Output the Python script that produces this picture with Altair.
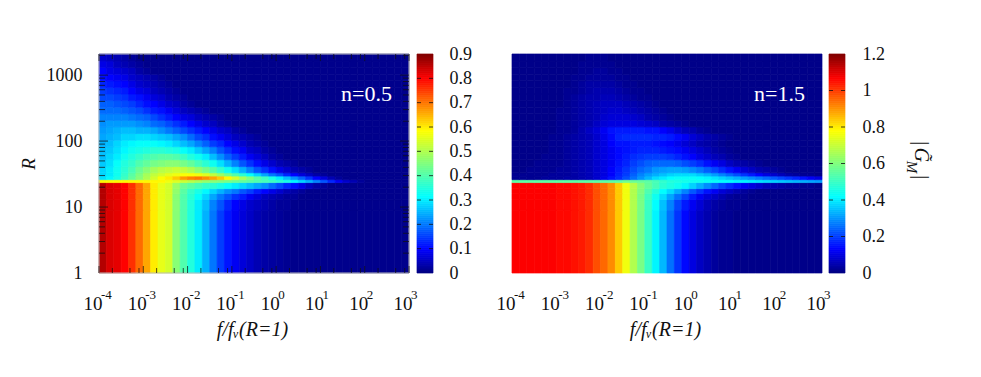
import altair as alt
import pandas as pd

FONT = "Liberation Serif"
N = 42
FLOOR = 0.01
H = 219
x_edges_log = [-4 + i / 6 for i in range(N + 1)]
r_edges = [1, 9, 13, 16, 19, 23.5, 26, 29.5, 33, 41, 52, 65, 82, 103, 130, 164, 206, 259, 326, 411, 517, 651, 820, 1032, 1299, 1635, 2090]

left_low = [.86,.83,.82,.80,.76,.71,.66,.60,.56,.54]
right_low = [1.07,1.07,1.07,1.07,1.07,1.07,1.06,1.06,1.05,1.04,1.02,.98,.95,.91,.84]

# rows from the lowest R band to the highest
left_rows = [
    left_low + [.46,.40,.35,.30,.25,.20,.15,.115,.09,.07,.055,.04,.03,.025,.02,.015],
    left_low + [.46,.40,.35,.30,.26,.21,.17,.13,.10,.08,.06,.05,.04,.03,.02,.02],
    left_low + [.46,.40,.36,.32,.28,.24,.20,.17,.14,.12,.09,.07,.05,.04,.03,.02,.02],
    left_low + [.47,.41,.37,.34,.31,.28,.25,.22,.20,.17,.15,.12,.10,.08,.06,.04,.03,.02],
    left_low + [.48,.43,.41,.39,.37,.36,.34,.32,.30,.28,.26,.24,.22,.19,.16,.13,.11,.08,.05,.03,.02],
    [.59,.59,.59,.59,.59,.59,.59,.59,.59,.57,.55,.53,.51,.49,.47,.46,.45,.44,.43,.42,.41,.40,.39,.38,.36,.34,.31,.28,.25,.21,.17,.13,.09,.06,.04,.02],
    [.29,.31,.34,.38,.42,.46,.50,.54,.58,.60,.63,.67,.69,.70,.68,.66,.63,.59,.54,.49,.45,.41,.38,.34,.30,.26,.22,.18,.14,.10,.07,.04,.02],
    [.28,.30,.33,.37,.41,.45,.49,.52,.54,.56,.57,.58,.58,.57,.55,.52,.48,.44,.40,.36,.32,.28,.24,.20,.17,.13,.10,.07,.05,.03,.02],
    [.28,.30,.33,.36,.39,.43,.46,.49,.51,.52,.53,.52,.50,.47,.44,.41,.37,.33,.29,.25,.21,.17,.14,.11,.08,.06,.04,.03,.02],
    [.27,.29,.32,.35,.37,.40,.42,.44,.45,.46,.46,.44,.42,.39,.36,.33,.29,.25,.21,.17,.14,.11,.08,.06,.04,.03,.02],
    [.26,.28,.30,.33,.35,.37,.39,.40,.41,.41,.40,.38,.35,.33,.30,.26,.22,.18,.15,.12,.09,.07,.05,.03,.02],
    [.26,.27,.29,.31,.33,.34,.35,.36,.36,.35,.34,.32,.30,.27,.24,.21,.17,.14,.11,.09,.06,.05,.03,.02],
    [.25,.26,.28,.30,.31,.32,.32,.32,.31,.30,.28,.26,.24,.21,.18,.15,.13,.10,.08,.06,.04,.03,.02],
    [.24,.25,.26,.28,.28,.29,.29,.28,.27,.26,.24,.22,.19,.16,.14,.11,.09,.07,.05,.04,.03,.02],
    [.23,.24,.25,.26,.26,.25,.25,.24,.22,.20,.18,.16,.14,.12,.10,.08,.06,.05,.03,.02],
    [.22,.23,.23,.23,.23,.22,.21,.19,.18,.16,.14,.12,.10,.08,.06,.05,.03,.02],
    [.21,.21,.21,.21,.20,.19,.18,.16,.14,.12,.10,.08,.07,.05,.04,.03,.02],
    [.19,.19,.19,.18,.17,.16,.14,.12,.11,.09,.07,.05,.04,.03,.02],
    [.18,.18,.17,.16,.15,.13,.11,.10,.08,.06,.05,.03,.02],
    [.16,.16,.15,.14,.12,.11,.09,.07,.06,.04,.03,.02],
    [.15,.14,.13,.12,.10,.08,.07,.05,.04,.03,.02],
    [.13,.12,.11,.10,.08,.06,.05,.04,.03,.02],
    [.11,.10,.09,.08,.06,.05,.04,.03,.02],
    [.10,.08,.07,.06,.05,.03,.02],
    [.08,.07,.05,.04,.03,.02],
    [.06,.05,.04,.03,.02],
]

right_rows = [
    right_low + [.76,.67,.59,.50,.41,.34,.26,.19,.14,.10,.07,.05,.03,.02,.02],
    right_low + [.76,.67,.59,.50,.42,.35,.28,.21,.16,.12,.09,.06,.04,.03,.02,.02],
    right_low + [.76,.67,.59,.51,.44,.38,.32,.26,.21,.16,.12,.09,.07,.05,.03,.02,.02],
    right_low + [.76,.67,.60,.53,.47,.42,.38,.33,.28,.23,.19,.15,.12,.09,.07,.05,.03,.02],
    right_low + [.76,.68,.61,.56,.52,.48,.46,.44,.41,.37,.33,.29,.25,.21,.18,.15,.12,.10,.08,.06,.05,.04,.03,.03,.02,.02],
    [.55,.55,.55,.55,.55,.55,.55,.55,.55,.55,.55,.55,.55,.55,.55,.58,.57,.56,.55,.52,.49,.47,.46,.45,.44,.44,.43,.43,.42,.42,.41,.41,.40,.39,.38,.37,.36,.35,.34,.33,.32,.31],
    [.02,.02,.02,.02,.03,.03,.03,.04,.04,.05,.06,.08,.11,.15,.18,.22,.26,.30,.34,.38,.40,.42,.43,.43,.43,.42,.41,.39,.37,.35,.33,.31,.29,.27,.25,.23,.21,.19,.17,.15,.12,.10],
    [.02,.02,.02,.02,.02,.03,.03,.03,.04,.05,.06,.08,.10,.13,.17,.20,.24,.28,.31,.33,.35,.37,.38,.38,.38,.36,.34,.31,.28,.25,.22,.19,.16,.13,.10,.08,.06,.04,.03,.02,.02],
    [.01,.01,.02,.02,.02,.02,.03,.03,.04,.05,.06,.08,.10,.13,.16,.19,.22,.25,.27,.30,.31,.32,.32,.31,.29,.27,.24,.21,.18,.15,.12,.09,.07,.05,.04,.03,.02],
    [.01,.01,.01,.02,.02,.02,.02,.03,.04,.05,.06,.08,.10,.12,.15,.17,.20,.22,.24,.25,.25,.25,.24,.22,.20,.18,.15,.12,.10,.07,.05,.04,.03,.02],
    [.01,.01,.01,.01,.02,.02,.02,.03,.04,.05,.06,.08,.10,.12,.14,.16,.18,.19,.20,.20,.20,.19,.17,.15,.13,.10,.08,.06,.05,.03,.02],
    [.01,.01,.01,.01,.01,.02,.02,.03,.04,.05,.06,.08,.10,.12,.14,.15,.16,.17,.17,.17,.16,.15,.14,.12,.10,.08,.06,.04,.03,.02],
    [.01,.01,.01,.01,.01,.02,.02,.03,.04,.05,.06,.08,.10,.13,.15,.15,.16,.16,.16,.15,.14,.13,.11,.09,.07,.05,.04,.03,.02],
    [.01,.01,.01,.01,.01,.02,.02,.03,.04,.05,.06,.08,.11,.14,.17,.18,.18,.18,.18,.17,.17,.16,.14,.12,.09,.07,.05,.04,.03,.02],
    [.01,.01,.01,.01,.01,.01,.02,.02,.03,.05,.07,.09,.12,.15,.16,.16,.16,.16,.15,.15,.13,.11,.08,.06,.05,.03,.02],
    [.01,.01,.01,.01,.01,.01,.02,.02,.03,.04,.05,.07,.09,.10,.10,.10,.10,.09,.08,.07,.05,.04,.03,.02],
    [.01,.01,.01,.01,.01,.01,.02,.02,.03,.04,.05,.06,.08,.09,.09,.09,.08,.07,.05,.04,.03,.02],
    [.01,.01,.01,.01,.01,.01,.02,.02,.03,.04,.05,.06,.07,.08,.08,.07,.06,.05,.04,.03,.02],
    [.01,.01,.01,.01,.01,.01,.01,.02,.03,.04,.05,.06,.07,.07,.07,.06,.05,.04,.03,.02],
    [.01,.01,.01,.01,.01,.01,.01,.02,.03,.04,.05,.05,.06,.06,.05,.04,.03,.02,.02],
    [.01,.01,.01,.01,.01,.01,.01,.02,.02,.03,.04,.05,.05,.05,.04,.03,.02,.02],
    [.01,.01,.01,.01,.01,.01,.01,.01,.02,.03,.04,.04,.04,.04,.03,.02,.02],
    [.01,.01,.01,.01,.01,.01,.01,.01,.02,.02,.03,.03,.03,.03,.02,.02],
    [.01,.01,.01,.01,.01,.01,.01,.01,.01,.02,.02,.03,.03,.02,.02],
    [.01,.01,.01,.01,.01,.01,.01,.01,.01,.02,.02,.02,.02,.02],
    [.01,.01,.01,.01,.01,.01,.01,.01,.01,.01,.02,.02,.02],
]

JET_STOPS = [0, .11, .35, .5, .65, .89, 1]
JET_COLORS = ["#00007f", "#0000ff", "#00ffff", "#7fff7f", "#ffff00", "#ff0000", "#7f0000"]

x_major = [1e-4, 1e-3, 1e-2, 1e-1, 1e0, 1e1, 1e2, 1e3]
x_exponents = ["-4", "-3", "-2", "-1", "0", "1", "2", "3"]
x_minor_mult = [2, 5, 8]
y_major = [1, 10, 100, 1000]
y_minor = [2, 3, 4, 5, 6, 7, 8, 9, 20, 30, 40, 50, 60, 70, 80, 90, 200, 300, 400, 500, 600, 700, 800, 900, 2000]


def cells(rows):
    out = []
    for j, row in enumerate(rows):
        full = row + [FLOOR] * (N - len(row))
        for i, v in enumerate(full):
            out.append(dict(x=10 ** x_edges_log[i], x2=10 ** x_edges_log[i + 1],
                            y=r_edges[j], y2=r_edges[j + 1], v=v))
    return pd.DataFrame(out)


def color_scale(vmax):
    return alt.Scale(domain=[s * vmax for s in JET_STOPS], range=JET_COLORS, interpolate="rgb", clamp=True)


def panel(rows, vmax, label, show_y, show_ticks):
    xs = alt.Scale(type="log", domain=[1e-4, 1e3], nice=False)
    ys = alt.Scale(type="log", domain=[1, 2090], nice=False)
    xaxis = alt.Axis(values=x_major, labelExpr="'10'", title="f/fᵥ(R=1)", grid=False, ticks=False, domain=False,
                     labelFont=FONT, labelFontSize=19, labelColor="#111", labelPadding=21, labelFlush=False,
                     labelOffset=-6.5, labelOverlap=False,
                     titleFont=FONT, titleFontSize=20, titleFontStyle="italic", titleFontWeight="normal",
                     titleColor="#111", titlePadding=6, titleX=153)
    yaxis = (alt.Axis(values=y_major, format="d", title="R", grid=False, ticks=False, domain=False,
                      labelFont=FONT, labelFontSize=18, labelColor="#111", labelPadding=17,
                      titleFont=FONT, titleFontSize=19, titleFontStyle="italic", titleFontWeight="normal",
                      titleColor="#111", titlePadding=8)
             if show_y else None)
    X = alt.X("x:Q", scale=xs, axis=xaxis)
    Y = alt.Y("y:Q", scale=ys, axis=yaxis)
    base = alt.Chart(cells(rows)).mark_rect(strokeWidth=0.7).encode(
        x=X,
        x2="x2:Q",
        y=Y,
        y2="y2:Q",
        color=alt.Color("v:Q", scale=color_scale(vmax), legend=None),
        stroke=alt.Stroke("v:Q", scale=color_scale(vmax), legend=None),
    )
    text = alt.Chart(pd.DataFrame({"t": [label]})).mark_text(
        font=FONT, fontSize=22, color="white", align="right", baseline="middle"
    ).encode(x=alt.value(293), y=alt.value(40), text="t:N")
    sup = alt.Chart(pd.DataFrame({"x": x_major, "t": x_exponents})).mark_text(
        font=FONT, fontSize=13, color="#111", align="left", baseline="middle", dx=2
    ).encode(x=X, y=alt.value(H + 22), text="t:N")
    layers = [base, text, sup]
    if show_ticks:
        maj = pd.DataFrame({"x": x_major})
        mins = pd.DataFrame({"x": [a * m for a in x_major[:-1] for m in x_minor_mult]})
        ymaj = pd.DataFrame({"y": y_major[1:]})
        ymin = pd.DataFrame({"y": y_minor})
        def rule(df, **enc):
            return alt.Chart(df).mark_rule(color="#111", opacity=.75, strokeWidth=1).encode(**enc)
        frame = alt.Chart(pd.DataFrame({"a": [0]})).mark_rect(fill=None, stroke="#bbbbbb", strokeWidth=1).encode(
            x=alt.value(0), x2=alt.value(310), y=alt.value(0), y2=alt.value(H))
        layers += [
            frame,
            rule(maj, x=X, y=alt.value(H), y2=alt.value(H - 7)),
            rule(mins, x=X, y=alt.value(H), y2=alt.value(H - 5)),
            rule(maj, x=X, y=alt.value(0), y2=alt.value(7)),
            rule(mins, x=X, y=alt.value(0), y2=alt.value(5)),
            rule(ymaj, y=Y, x=alt.value(0), x2=alt.value(9)),
            rule(ymin, y=Y, x=alt.value(0), x2=alt.value(6)),
            rule(ymaj, y=Y, x=alt.value(310), x2=alt.value(301)),
            rule(ymin, y=Y, x=alt.value(310), x2=alt.value(304)),
        ]
    return alt.layer(*layers).properties(width=310, height=H)


def colorbar(vmax, ticks, fmt_expr, title_parts, shift):
    steps = 110
    lv = [vmax * i / steps for i in range(steps)]
    df = pd.DataFrame({"a": lv, "b": [v + vmax / steps for v in lv]})
    df["c"] = (df.a + df.b) / 2
    ys = alt.Scale(domain=[0, vmax], nice=False)
    axis = alt.Axis(values=ticks, orient="right", labelExpr=fmt_expr, grid=False, ticks=False, domain=False,
                    title=None, labelFont=FONT, labelFontSize=18, labelColor="#111", labelPadding=16)
    Y = alt.Y("a:Q", scale=ys, axis=axis)
    bar = alt.Chart(df).mark_rect(strokeWidth=0.7).encode(
        y=Y,
        y2="b:Q",
        x=alt.value(shift), x2=alt.value(16 + shift),
        color=alt.Color("c:Q", scale=color_scale(vmax), legend=None),
        stroke=alt.Stroke("c:Q", scale=color_scale(vmax), legend=None),
    )
    t = pd.DataFrame({"a": ticks[1:-1]})
    r1 = alt.Chart(t).mark_rule(color="#111", opacity=.8).encode(y=Y, x=alt.value(shift), x2=alt.value(shift + 4))
    r2 = alt.Chart(t).mark_rule(color="#111", opacity=.8).encode(y=Y, x=alt.value(shift + 12), x2=alt.value(shift + 16))
    layers = [bar, r1, r2]
    for s, px, py, size in title_parts:
        layers.append(alt.Chart(pd.DataFrame({"t": [s]})).mark_text(
            font=FONT, fontSize=size, fontStyle="italic", color="#111", angle=90, align="center", baseline="middle"
        ).encode(x=alt.value(px), y=alt.value(py), text="t:N"))
    return alt.layer(*layers).properties(width=16, height=H)


spacer = alt.Chart(pd.DataFrame({"a": [0]})).mark_point(opacity=0).encode(
    x=alt.value(0), y=alt.value(0)
).properties(width=63, height=H)

chart = alt.hconcat(
    panel(left_rows, 0.9, "n=0.5", True, True),
    colorbar(0.9, [0, .1, .2, .3, .4, .5, .6, .7, .8, .9], "format(datum.value, '.1~f')", [], 0),
    spacer,
    panel(right_rows, 1.2, "n=1.5", False, False),
    colorbar(1.2, [0, .2, .4, .6, .8, 1, 1.2], "format(datum.value, '.1~f')",
             [("|", 91, 89, 20), ("G̃", 91, 101, 20), ("M", 82, 113, 15), ("|", 91, 123, 20)], -1),
    spacing=8, bounds="flush",
).resolve_scale(color="independent", stroke="independent").configure_view(stroke=None).properties(
    padding={"left": 11, "top": 37, "right": 5, "bottom": 5}
)
chart.save("out.html", embed_options={"renderer": "svg", "actions": False})
